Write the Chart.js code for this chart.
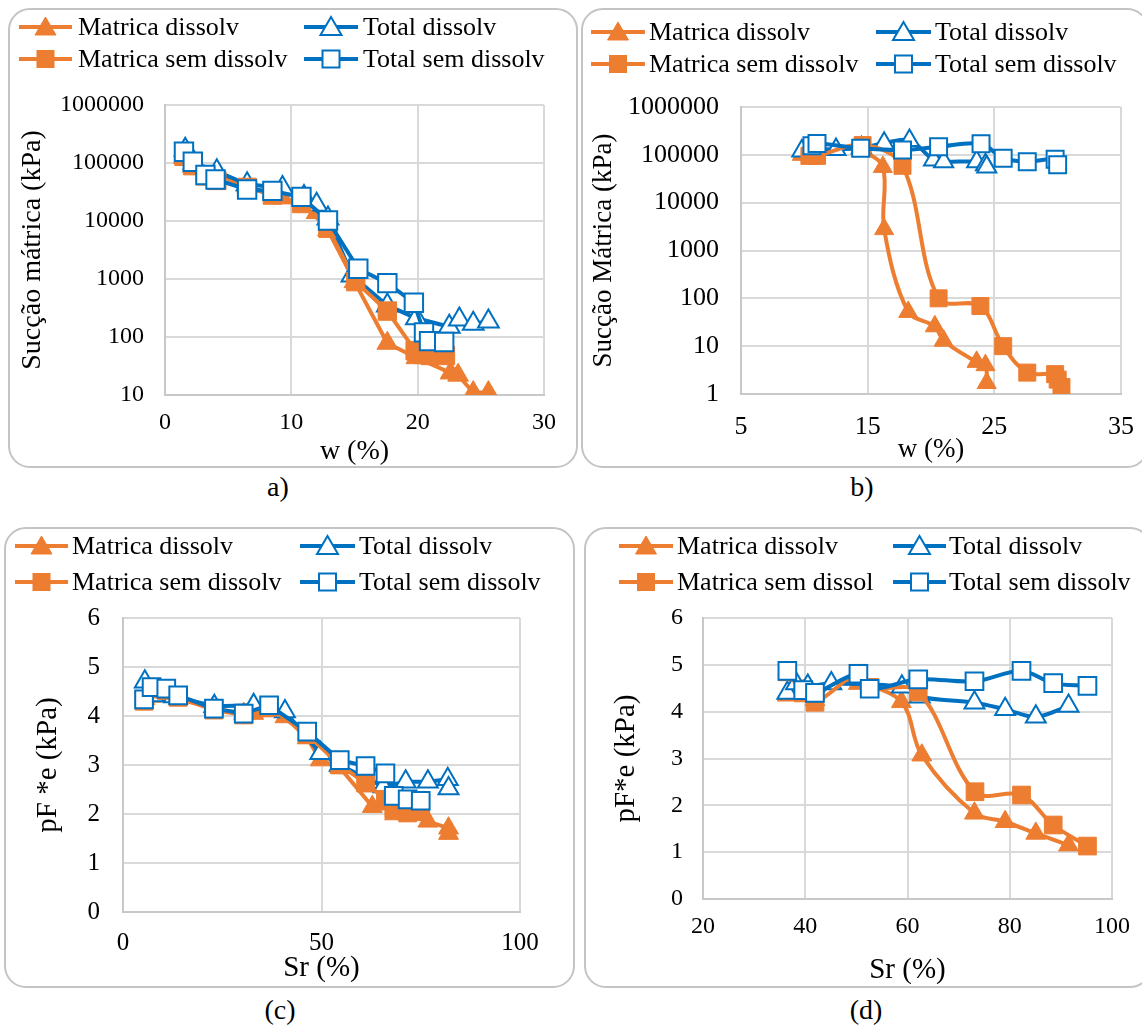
<!DOCTYPE html>
<html>
<head>
<meta charset="utf-8">
<script src="https://cdn.jsdelivr.net/npm/chart.js@4.4.1/dist/chart.umd.min.js"></script>
<style>
  html, body { overflow: hidden; }
  body { margin: 0; background: #fff; width: 1142px; height: 1028px; position: relative;
         font-family: 'Liberation Serif', 'Times New Roman', serif; color: #000; }
  .box { position: absolute; border: 2px solid #c4c4c4; border-radius: 22px; box-sizing: border-box; }
  canvas { position: absolute; }
  .lt { position: absolute; font-size: 26px; line-height: 26px; white-space: nowrap; }
  .ls { position: absolute; overflow: visible; }
  .cap { position: absolute; font-size: 28px; line-height: 28px; transform: translate(-50%, -50%); white-space: nowrap; }
</style>
</head>
<body>
<div class="box" style="left:8px;top:8px;width:570px;height:460px"></div>
<div class="box" style="left:581px;top:8px;width:568px;height:460px"></div>
<div class="box" style="left:4px;top:527px;width:571px;height:461px"></div>
<div class="box" style="left:584px;top:527px;width:568px;height:461px"></div>
<div class="cap" style="left:278px;top:487px">a)</div>
<div class="cap" style="left:862px;top:487px">b)</div>
<div class="cap" style="left:280px;top:1010px">(c)</div>
<div class="cap" style="left:866px;top:1010px">(d)</div>
<script>
// ===== 数据 =====
const ORANGE = '#ED7D31';
const BLUE = '#0070C0';
const GRID = '#d9d9d9';
const FONT = "'Liberation Serif', 'Times New Roman', serif";

const NAMES = ['Matrica dissolv', 'Total dissolv', 'Matrica sem dissolv', 'Total sem dissolv'];
const NAMES_D = ['Matrica dissolv', 'Total dissolv', 'Matrica sem dissol', 'Total sem dissolv'];

// a) sucção x w
const aTicksX = [0, 10, 20, 30];
const aTicksY = [10, 100, 1000, 10000, 100000, 1000000];
const aMatDisX = [1.5, 2.2, 4.0, 6.5, 9.3, 12.0, 12.9, 15.0, 17.6, 19.9, 22.6, 23.2, 24.4, 25.6];
const aMatDisY = [125000, 88000, 65000, 40000, 25000, 14000, 7000, 900, 78, 44, 24, 22, 11, 11];
const aTotDisX = [1.6, 2.3, 4.1, 6.5, 9.3, 11.0, 12.0, 12.9, 14.8, 17.6, 19.9, 22.5, 23.3, 24.4, 25.6];
const aTotDisY = [170000, 100000, 72000, 43000, 37000, 26000, 19000, 11000, 1150, 350, 210, 150, 200, 170, 185];
const aMatSemX = [1.5, 2.2, 3.2, 4.1, 6.5, 8.5, 10.8, 12.9, 15.1, 17.6, 19.8, 20.5, 21.0, 22.2];
const aMatSemY = [130000, 90000, 60000, 50000, 38000, 28000, 20000, 7500, 900, 280, 58, 50, 48, 48];
const aTotSemX = [1.5, 2.2, 3.2, 4.0, 6.5, 8.5, 10.8, 12.9, 15.3, 17.6, 19.7, 20.5, 20.9, 22.1];
const aTotSemY = [156000, 105000, 62000, 52000, 35000, 33000, 26000, 10200, 1500, 850, 390, 120, 85, 82];

// b) sucção x w
const bTicksX = [5, 15, 25, 35];
const bTicksY = [1, 10, 100, 1000, 10000, 100000, 1000000];
const bMatDisX = [9.8, 10.8, 12.5, 14.5, 16.2, 16.3, 18.2, 20.3, 21.0, 23.6, 24.3, 24.4];
const bMatDisY = [100000, 95000, 130000, 120000, 56000, 2800, 52, 26, 13, 4.7, 4.0, 1.7];
const bTotDisX = [9.8, 10.8, 12.5, 14.5, 16.3, 18.3, 20.2, 21.0, 23.6, 24.3, 24.4];
const bTotDisY = [120000, 130000, 130000, 140000, 175000, 200000, 78000, 72000, 72000, 62000, 56000];
const bMatSemX = [10.4, 11.0, 14.6, 17.75, 20.6, 23.9, 25.7, 27.6, 29.8, 30.0, 30.3];
const bMatSemY = [95000, 95000, 160000, 59000, 100, 69, 10, 2.8, 2.6, 2.0, 1.4];
const bTotSemX = [10.6, 11.0, 14.45, 17.75, 20.6, 23.95, 25.7, 27.6, 29.8, 30.0];
const bTotSemY = [155000, 172000, 137000, 126000, 148000, 170000, 85000, 72000, 81000, 62000];

// (c) pF*e x Sr
const cTicksX = [0, 50, 100];
const cTicksY = [0, 1, 2, 3, 4, 5, 6];
const cMatDisX = [5.5, 7.2, 10.9, 13.9, 22.9, 30.4, 32.9, 36.8, 40.8, 46.4, 49.7, 54.6, 62.8, 65.6, 68.4, 71.7, 76.8, 82.0, 82.0];
const cMatDisY = [4.35, 4.4, 4.5, 4.35, 4.15, 4.05, 4.05, 4.1, 3.98, 3.55, 3.1, 2.95, 2.15, 2.2, 2.0, 2.0, 1.85, 1.71, 1.6];
const cTotDisX = [5.5, 7.7, 12.8, 23.0, 32.9, 40.8, 49.7, 54.6, 65.6, 71.2, 76.8, 81.8, 82.0];
const cTotDisY = [4.7, 4.42, 4.4, 4.2, 4.22, 4.09, 3.24, 3.0, 2.56, 2.66, 2.66, 2.71, 2.52];
const cMatSemX = [5.3, 7.2, 10.9, 13.9, 22.9, 30.4, 36.8, 46.4, 54.6, 61.1, 66.1, 68.2, 71.7, 75.0];
const cMatSemY = [4.3, 4.55, 4.52, 4.38, 4.12, 4.02, 4.18, 3.62, 3.0, 2.63, 2.3, 2.1, 2.02, 2.05];
const cTotSemX = [5.3, 7.2, 10.9, 13.9, 22.9, 30.4, 36.8, 46.4, 54.6, 61.1, 66.1, 68.2, 71.7, 75.0];
const cTotSemY = [4.34, 4.59, 4.56, 4.42, 4.15, 4.05, 4.22, 3.68, 3.10, 2.98, 2.83, 2.37, 2.30, 2.27];

// (d) pF*e x Sr
const dTicksX = [20, 40, 60, 80, 100];
const dTicksY = [0, 1, 2, 3, 4, 5, 6];
const dMatDisX = [36.5, 39.6, 41.9, 45.1, 50.4, 58.8, 62.8, 73.1, 79.1, 85.1, 91.5];
const dMatDisY = [4.35, 4.45, 4.25, 4.6, 4.6, 4.21, 3.07, 1.83, 1.65, 1.40, 1.15];
const dTotDisX = [36.5, 38.2, 40.5, 45.1, 58.9, 62.4, 73.1, 79.1, 85.1, 91.5];
const dTotDisY = [4.40, 4.6, 4.55, 4.6, 4.53, 4.32, 4.19, 4.05, 3.89, 4.12];
const dMatSemX = [36.5, 39.6, 41.9, 50.4, 52.6, 62.1, 73.2, 82.3, 88.5, 95.2];
const dMatSemY = [4.85, 4.4, 4.2, 4.82, 4.52, 4.42, 2.29, 2.22, 1.58, 1.13];
const dTotSemX = [36.5, 39.6, 41.9, 50.4, 52.6, 62.1, 73.1, 82.3, 88.5, 95.2];
const dTotSemY = [4.87, 4.46, 4.40, 4.81, 4.49, 4.69, 4.65, 4.87, 4.61, 4.55];

// ===== 工具 =====
function pts(xs, ys) { return xs.map((x, i) => ({ x, y: ys[i] })); }

function series(label, xs, ys, orange, tri, r, tension) {
  const col = orange ? ORANGE : BLUE;
  return {
    label, data: pts(xs, ys),
    borderColor: col, borderWidth: 4,
    pointStyle: tri ? 'triangle' : 'rect',
    pointRadius: tri ? r.t : r.s,
    pointBackgroundColor: orange ? col : '#fff',
    pointBorderColor: col,
    pointBorderWidth: orange ? 1 : 2,
    tension, fill: false
  };
}

// 顺序：最后画的在最上面 -> index 0 在最上
function datasets(names, s, r, tension) {
  return [
    series(names[3], s[6], s[7], false, false, r, tension),
    series(names[2], s[4], s[5], true, false, r, tension),
    series(names[1], s[2], s[3], false, true, r, tension),
    series(names[0], s[0], s[1], true, true, r, tension)
  ];
}

function legend(names, rows, cols) {
  const items = [[0, 0, ORANGE, 't', true], [1, 1, BLUE, 't', false], [2, 0, ORANGE, 's', true], [3, 1, BLUE, 's', false]];
  items.forEach(([n, c, col, shape, filled]) => {
    const row = n < 2 ? rows[0] : rows[1];
    const [x0, x1, tx] = cols[c];
    const w = x1 - x0, mid = w / 2;
    const svg = document.createElementNS('http://www.w3.org/2000/svg', 'svg');
    svg.setAttribute('class', 'ls');
    svg.setAttribute('width', w); svg.setAttribute('height', 24);
    svg.style.left = x0 + 'px'; svg.style.top = (row - 12) + 'px';
    let mk;
    if (shape === 't') {
      mk = `<polygon points="${mid},2 ${mid + 10.5},20 ${mid - 10.5},20" fill="${filled ? col : '#fff'}" stroke="${col}" stroke-width="${filled ? 1 : 2}"/>`;
    } else {
      mk = `<rect x="${mid - 8.5}" y="3.5" width="17" height="17" fill="${filled ? col : '#fff'}" stroke="${col}" stroke-width="${filled ? 1 : 2}"/>`;
    }
    svg.innerHTML = `<line x1="0" y1="12" x2="${w}" y2="12" stroke="${col}" stroke-width="4"/>` + mk;
    document.body.appendChild(svg);
    const t = document.createElement('div');
    t.className = 'lt';
    t.textContent = names[n];
    t.style.left = tx + 'px'; t.style.top = (row - 13) + 'px';
    document.body.appendChild(t);
  });
}

function panel(p) {
  const padL = p.yTitleX - p.x - p.titleSize / 2;
  const padT = p.area.t - p.y;
  const padR = p.x + p.w - p.area.r;
  const padB = p.y + p.h - p.xTitleY - p.titleSize / 2;
  const yW = p.area.l - p.x - padL;
  const xH = p.y + p.h - padB - p.area.b;

  const canvas = document.createElement('canvas');
  canvas.width = p.w; canvas.height = p.h;
  canvas.style.left = p.x + 'px'; canvas.style.top = p.y + 'px';
  document.body.appendChild(canvas);

  const tickFont = { family: FONT, size: p.tickSize, lineHeight: 1 };
  const titleFont = { family: FONT, size: p.titleSize, lineHeight: 1 };

  new Chart(canvas, {
    type: 'line',
    data: { datasets: p.datasets },
    options: {
      responsive: false,
      animation: false,
      devicePixelRatio: 1,
      layout: { padding: { left: padL, top: padT, right: padR, bottom: padB } },
      plugins: { legend: { display: false }, tooltip: { enabled: false } },
      scales: {
        x: {
          type: 'linear', min: p.xTicks[0], max: p.xTicks[p.xTicks.length - 1],
          afterBuildTicks: ax => { ax.ticks = p.xTicks.map(v => ({ value: v })); },
          afterFit: ax => { ax.height = xH; },
          grid: { color: GRID, lineWidth: 2, drawTicks: false },
          border: { color: '#c8c8c8', width: 2 },
          ticks: { font: tickFont, color: '#000', padding: p.xTickY - p.area.b - p.tickSize / 2, maxRotation: 0, autoSkip: false, callback: v => String(v) },
          title: { display: true, text: p.xTitle, font: titleFont, color: '#000', padding: 0 }
        },
        y: {
          type: p.log ? 'logarithmic' : 'linear', min: p.yTicks[0], max: p.yTicks[p.yTicks.length - 1],
          afterBuildTicks: ax => { ax.ticks = p.yTicks.map(v => ({ value: v })); },
          afterFit: ax => { ax.width = yW; },
          grid: { color: GRID, lineWidth: 2, drawTicks: false },
          border: { color: '#c8c8c8', width: 2 },
          ticks: { font: tickFont, color: '#000', padding: p.yGap, autoSkip: false, callback: v => String(v) },
          title: { display: true, text: p.yTitle, font: titleFont, color: '#000', padding: 0 }
        }
      }
    }
  });
}

// ===== 面板 =====
panel({
  x: 8, y: 8, w: 570, h: 460, area: { l: 165, t: 105, r: 544, b: 395 },
  yTitleX: 33, xTitleY: 452, tickSize: 24, titleSize: 28, yGap: 21, xTickY: 423,
  xTicks: aTicksX, yTicks: aTicksY, log: true,
  xTitle: 'w (%)', yTitle: 'Sucção mátrica (kPa)',
  datasets: datasets(NAMES, [aMatDisX, aMatDisY, aTotDisX, aTotDisY, aMatSemX, aMatSemY, aTotSemX, aTotSemY], { t: 12, s: 13 }, 0)
});
legend(NAMES, [27, 59], [[19, 72, 78], [304, 358, 363]]);

// 画布向右超出视口，给最后一个刻度标签留空间
panel({
  x: 581, y: 8, w: 620, h: 460, area: { l: 741, t: 107, r: 1121, b: 394 },
  yTitleX: 604, xTitleY: 450, tickSize: 26, titleSize: 27, yGap: 22, xTickY: 427,
  xTicks: bTicksX, yTicks: bTicksY, log: true,
  xTitle: 'w (%)', yTitle: 'Sucção Mátrica (kPa)',
  datasets: datasets(NAMES, [bMatDisX, bMatDisY, bTotDisX, bTotDisY, bMatSemX, bMatSemY, bTotSemX, bTotSemY], { t: 11, s: 12 }, 0.35)
});
legend(NAMES, [32, 64], [[591, 645, 649], [876, 931, 935]]);

panel({
  x: 4, y: 527, w: 571, h: 461, area: { l: 123, t: 618, r: 520, b: 912 },
  yTitleX: 48, xTitleY: 968, tickSize: 25, titleSize: 29, yGap: 23, xTickY: 943,
  xTicks: cTicksX, yTicks: cTicksY, log: false,
  xTitle: 'Sr (%)', yTitle: 'pF *e (kPa)',
  datasets: datasets(NAMES, [cMatDisX, cMatDisY, cTotDisX, cTotDisY, cMatSemX, cMatSemY, cTotSemX, cTotSemY], { t: 11.5, s: 12.5 }, 0)
});
legend(NAMES, [546, 582], [[15, 68, 72], [300, 355, 359]]);

panel({
  x: 584, y: 527, w: 620, h: 461, area: { l: 703, t: 618, r: 1112, b: 899 },
  yTitleX: 626, xTitleY: 970, tickSize: 24, titleSize: 29, yGap: 20, xTickY: 927,
  xTicks: dTicksX, yTicks: dTicksY, log: false,
  xTitle: 'Sr (%)', yTitle: 'pF*e (kPa)',
  datasets: datasets(NAMES_D, [dMatDisX, dMatDisY, dTotDisX, dTotDisY, dMatSemX, dMatSemY, dTotSemX, dTotSemY], { t: 11.5, s: 12.5 }, 0.35)
});
legend(NAMES_D, [546, 582], [[619, 673, 677], [893, 946, 949]]);
</script>
</body>
</html>
